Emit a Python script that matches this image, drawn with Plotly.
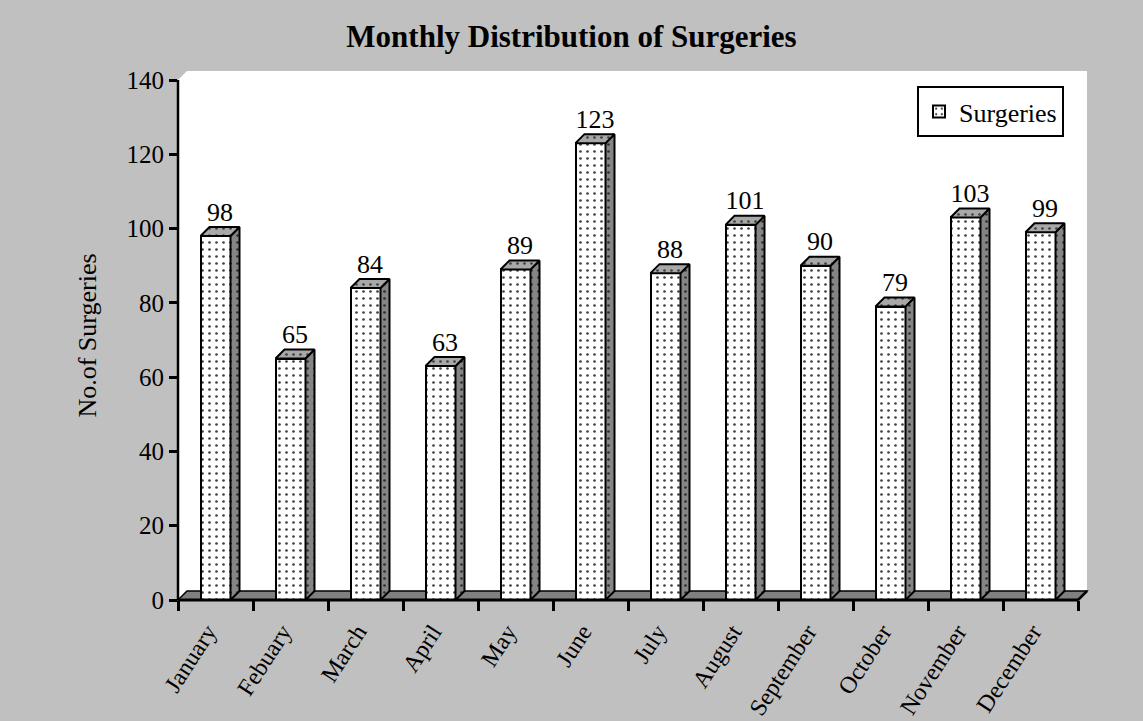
import plotly.graph_objects as go

months = ["January", "Febuary", "March", "April", "May", "June", "July",
          "August", "September", "October", "November", "December"]
surgeries = [98, 65, 84, 63, 89, 123, 88, 101, 90, 79, 103, 99]
y_ticks = [0, 20, 40, 60, 80, 100, 120, 140]

# ---- layout geometry (pixels) ----
W, H = 1143, 721
L, R, T, B = 178, 1087, 71, 600
DEPTH = 9                      # 3-D depth in px
CAT_PX = 75.0                  # px per category
Y_MAX = 140
Y_PX = 520.0 / Y_MAX           # px per unit
dx = DEPTH / CAT_PX
dy = DEPTH / Y_PX
BAR_W = 0.4
FONT = "Liberation Serif"
GRAY = "#C0C0C0"

def px(xp):
    return (xp - L) / (R - L)

def py(yp):
    return (B - yp) / (B - T)

idx = list(range(len(months)))

fig = go.Figure()

PAT = dict(shape=".", fillmode="replace", size=7, solidity=0.12)

# front faces
fig.add_trace(go.Bar(
    x=idx, y=surgeries, width=BAR_W, name="Surgeries",
    marker=dict(color="white", line=dict(color="black", width=2),
                pattern=dict(PAT, bgcolor="white", fgcolor="#404040")),
    showlegend=True, hoverinfo="skip",
))

# side faces and top faces
sx, sy, tx, ty = [], [], [], []
for i, v in zip(idx, surgeries):
    x0, x1 = i - BAR_W / 2, i + BAR_W / 2
    sx += [x1, x1 + dx, x1 + dx, x1, x1, None]
    sy += [0, dy, v + dy, v, 0, None]
    tx += [x0, x0 + dx, x1 + dx, x1, x0, None]
    ty += [v, v + dy, v + dy, v, v, None]

fig.add_trace(go.Scatter(
    x=sx, y=sy, mode="lines", fill="toself", fillcolor="#808080",
    line=dict(color="black", width=2), showlegend=False, hoverinfo="skip",
    fillpattern=dict(PAT, bgcolor="#858585", fgcolor="#303030"),
))
fig.add_trace(go.Scatter(
    x=tx, y=ty, mode="lines", fill="toself", fillcolor="#A8A8A8",
    line=dict(color="black", width=2), showlegend=False, hoverinfo="skip",
    fillpattern=dict(PAT, bgcolor="#A8A8A8", fgcolor="#404040"),
))

# data labels
fig.add_trace(go.Scatter(
    x=[i + dx / 2 for i in idx], y=[v + dy for v in surgeries],
    mode="text", text=[str(v) for v in surgeries], textposition="top center",
    textfont=dict(family=FONT, size=26, color="black"),
    showlegend=False, hoverinfo="skip", cliponaxis=False,
))

shapes = [
    # walls (white)
    dict(type="path", xref="paper", yref="paper", layer="below",
         path=f"M {px(L)} {py(B)} L {px(L)} {py(B-520)} L {px(L+DEPTH)} {py(T)} "
              f"L {px(R)} {py(T)} L {px(R)} {py(B-DEPTH)} L {px(R-DEPTH)} {py(B)} Z",
         fillcolor="white", line=dict(width=0)),
    # floor
    dict(type="path", xref="paper", yref="paper", layer="below",
         path=f"M {px(L)} {py(B)} L {px(L+DEPTH)} {py(B-DEPTH)} L {px(R)} {py(B-DEPTH)} "
              f"L {px(R-DEPTH)} {py(B)} Z",
         fillcolor="#808080", line=dict(color="black", width=1.5)),
    # y axis line
    dict(type="line", xref="paper", yref="paper", layer="above",
         x0=px(L), x1=px(L), y0=py(B - 520), y1=py(B),
         line=dict(color="black", width=2.5)),
    # x axis line (front edge of floor)
    dict(type="line", xref="paper", yref="paper", layer="above",
         x0=px(L), x1=px(R - DEPTH), y0=py(B), y1=py(B),
         line=dict(color="black", width=3)),
    dict(type="line", xref="paper", yref="paper", layer="above",
         x0=px(R - DEPTH), x1=px(R), y0=py(B), y1=py(B - DEPTH),
         line=dict(color="black", width=2.5)),
]

fig.update_layout(
    width=W, height=H,
    margin=dict(l=L, r=W - R, t=T, b=H - B, pad=0, autoexpand=False),
    paper_bgcolor=GRAY, plot_bgcolor=GRAY,
    font=dict(family=FONT, size=25, color="black"),
    title=dict(text="<b>Monthly Distribution of Surgeries</b>",
               font=dict(family=FONT, size=31, color="black"),
               x=0.5, xref="container", xanchor="center",
               y=1 - 36 / H, yref="container", yanchor="middle",
               automargin=False),
    shapes=shapes,
    showlegend=True,
    legend=dict(x=px(917), y=py(86), xanchor="left", yanchor="top",
                bgcolor="white", bordercolor="black", borderwidth=2,
                font=dict(family=FONT, size=26, color="black"),
                itemsizing="constant"),
    bargap=0,
)

fig.update_xaxes(
    type="linear", range=[-0.5, 11.5 + dx], automargin=False,
    tickmode="array", tickvals=idx, ticktext=months,
    tickangle=-57, ticks="", showline=False, showgrid=False, zeroline=False,
    ticklabelstandoff=12, ticklabelshift=-8,
    tickfont=dict(family=FONT, size=24, color="black"),
)
# category boundary ticks on a second overlaying axis
fig.update_layout(xaxis2=dict(
    overlaying="x", anchor="y", side="bottom", range=[-0.5, 11.5 + dx],
    automargin=False,
    tickmode="array", tickvals=[i - 0.5 for i in range(len(months) + 1)],
    ticktext=[""] * (len(months) + 1), ticks="outside", ticklen=10,
    tickwidth=2.5, tickcolor="black", showline=False, showgrid=False,
    zeroline=False, showticklabels=False,
))
fig.add_trace(go.Scatter(x=[None], y=[None], xaxis="x2", yaxis="y",
                         showlegend=False, hoverinfo="skip"))

fig.update_yaxes(
    range=[0, Y_MAX + dy], tickmode="array", tickvals=y_ticks, automargin=False,
    ticks="outside", ticklen=8, tickwidth=2.5, tickcolor="black",
    showline=False, showgrid=False, zeroline=False,
    tickfont=dict(family=FONT, size=25, color="black"),
    title=dict(text="No.of Surgeries", standoff=22,
               font=dict(family=FONT, size=26, color="black")),
)

fig.write_html("out.html", config={"displayModeBar": False},
               post_script="document.body.style.margin='0';"
                           "document.documentElement.style.margin='0';")
